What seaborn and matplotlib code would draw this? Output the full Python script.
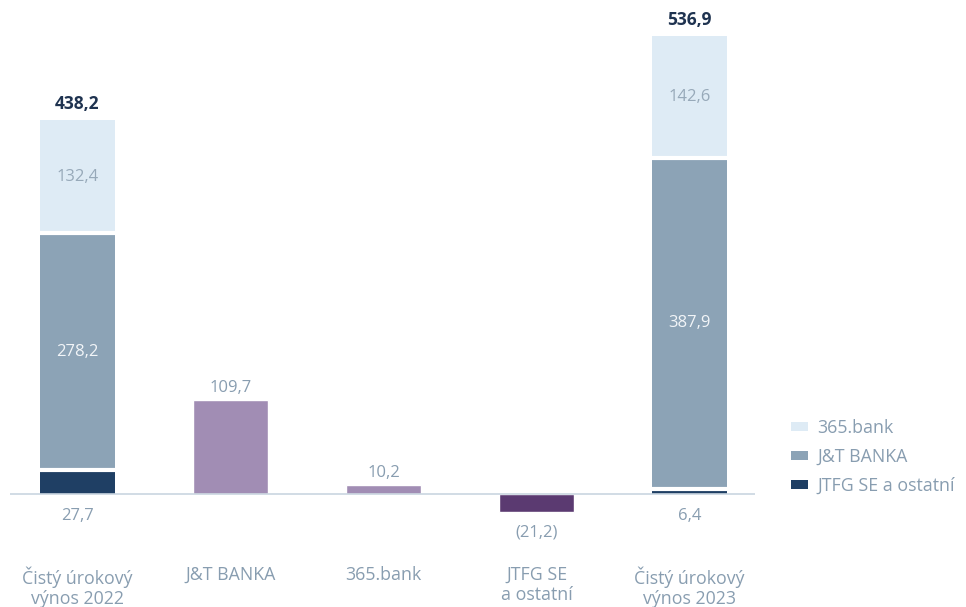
import matplotlib
matplotlib.use("Agg")
import matplotlib.pyplot as plt
import seaborn as sns
import pandas as pd
import numpy as np
from matplotlib.patches import Patch

# ---- data ----
categories = ["Čistý úrokový\nvýnos 2022", "J&T BANKA", "365.bank",
              "JTFG SE\na ostatní", "Čistý úrokový\nvýnos 2023"]
segments = ["JTFG SE a ostatní", "J&T BANKA", "365.bank"]
stack_2022 = [27.7, 278.2, 132.4]
stack_2023 = [6.4, 387.9, 142.6]
totals = [438.2, 536.9]
change_cats = ["J&T BANKA", "365.bank", "JTFG SE\na ostatní"]
change_vals = [109.7, 10.2, -21.2]

seg_colors = {"JTFG SE a ostatní": "#1f3f64", "J&T BANKA": "#8ca3b6", "365.bank": "#deebf5"}
seg_text = {"JTFG SE a ostatní": None, "J&T BANKA": "#f2f5f8", "365.bank": "#97a9b9"}
change_colors = {"J&T BANKA": "#a18db4", "365.bank": "#a18db4", "JTFG SE\na ostatní": "#5b3a71"}

label_col = "#889db0"
total_col = "#1f3350"

def fmt(v):
    s = f"{abs(v):.1f}".replace(".", ",")
    return f"({s})" if v < 0 else s

sns.set_theme(style="white")
plt.rcParams["font.family"] = ["Open Sans", "DejaVu Sans"]

W, H, DPI = 966, 607, 100
fig = plt.figure(figsize=(W / DPI, H / DPI), dpi=DPI)
left_px, right_px = 10, 755
ax = fig.add_axes([left_px / W, 0, (right_px - left_px) / W, 1])

k = 0.853  # px per unit
base_px = 494
ax.set_ylim(-(H - base_px) / k, base_px / k)

bw = 0.49
# change bars via seaborn
df = pd.DataFrame({"cat": change_cats, "val": change_vals})
sns.barplot(data=df, x="cat", y="val", order=categories, hue="cat",
            palette=change_colors, legend=False, errorbar=None,
            width=bw, saturation=1, ax=ax, zorder=2)

# stacked bars
for pos, stack, tot in ((0, stack_2022, totals[0]), (4, stack_2023, totals[1])):
    bottom = 0
    for seg, v in zip(segments, stack):
        ax.bar(pos, v, bottom=bottom, width=bw, color=seg_colors[seg],
               edgecolor="none", linewidth=0, zorder=2)
        if seg == "JTFG SE a ostatní":
            ax.annotate(fmt(v), (pos, 0), xytext=(0, -10), textcoords="offset points",
                        ha="center", va="top", fontsize=12, color=label_col)
        else:
            ax.text(pos, bottom + v / 2, fmt(v), ha="center", va="center",
                    fontsize=12, color=seg_text[seg], zorder=3)
        bottom += v
    # white separators between segments
    seps = np.cumsum(stack)[:-1]
    ax.hlines(seps, pos - bw / 2 - 0.01, pos + bw / 2 + 0.01, colors="white",
              linewidth=3.0, zorder=3)
    ax.annotate(fmt(tot), (pos, bottom), xytext=(0, 5), textcoords="offset points",
                ha="center", va="bottom", fontsize=12.5, fontweight="bold", color=total_col)

# change labels
for cat, v in zip(change_cats, change_vals):
    pos = categories.index(cat)
    if v >= 0:
        ax.annotate(fmt(v), (pos, v), xytext=(0, 3), textcoords="offset points",
                    ha="center", va="bottom", fontsize=12, color=label_col)
    else:
        ax.annotate(fmt(v), (pos, v), xytext=(0, -9), textcoords="offset points",
                    ha="center", va="top", fontsize=12, color=label_col)

# category labels
for i, c in enumerate(categories):
    ax.annotate(c, (i, 0), xytext=(0, -52), textcoords="offset points",
                ha="center", va="top", fontsize=12.8, color=label_col, linespacing=1.15)

ax.axhline(0, color="#cad6e0", lw=1.2, zorder=4)
ax.set_xlim(-0.441, 4.428)
ax.set_xlabel("")
ax.set_ylabel("")
ax.set_xticks([])
ax.set_yticks([])
for s in ax.spines.values():
    s.set_visible(False)
ax.patch.set_alpha(0)

handles = [Patch(facecolor=seg_colors[s], edgecolor="none") for s in segments[::-1]]
fig.legend(handles, segments[::-1], loc="upper left",
           bbox_to_anchor=(791 / W, 1 - 419 / H), frameon=False, fontsize=12.8,
           handlelength=0.95, handleheight=0.42, handletextpad=0.55,
           labelspacing=0.62, borderpad=0, borderaxespad=0, labelcolor=label_col)

fig.savefig("out.png", dpi=DPI)
